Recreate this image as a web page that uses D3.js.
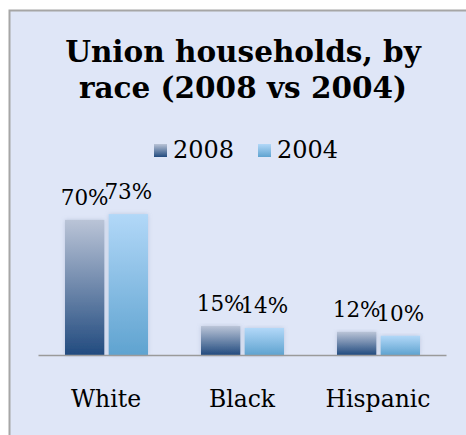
<!DOCTYPE html>
<html>
<head>
<meta charset="utf-8">
<script src="https://cdn.jsdelivr.net/npm/d3@7"></script>
<style>
  html, body { margin: 0; padding: 0; background: #ffffff; }
  svg { display: block; }
  text { font-family: "DejaVu Serif", "Liberation Serif", serif; }
</style>
</head>
<body>
<svg id="chart" width="466" height="435"></svg>
<script>
// Share of union households by race
const categories = ["White", "Black", "Hispanic"];
const seriesNames = ["2008", "2004"];
const values2008 = [70, 15, 12];
const values2004 = [73, 14, 10];
const titleLines = ["Union households, by", "race (2008 vs 2004)"];

const svg = d3.select("#chart");
const W = 466, H = 435;

// chart area panel
svg.append("rect")
  .attr("x", 9.5).attr("y", 10.5)
  .attr("width", W + 10).attr("height", H + 10)
  .attr("fill", "#dfe6f7")
  .attr("stroke", "#a6a6a6").attr("stroke-width", 2);

const defs = svg.append("defs");
const grads = [
  { id: "g2008", top: "#bac4d7", bottom: "#224b7f" },
  { id: "g2004", top: "#b2d8f8", bottom: "#5fa3d0" }
];
grads.forEach(g => {
  const lg = defs.append("linearGradient").attr("id", g.id)
    .attr("x1", 0).attr("y1", 0).attr("x2", 0).attr("y2", 1);
  lg.append("stop").attr("offset", "0%").attr("stop-color", g.top);
  lg.append("stop").attr("offset", "100%").attr("stop-color", g.bottom);
});
defs.append("filter").attr("id", "shadow")
  .attr("x", "-30%").attr("y", "-10%").attr("width", "160%").attr("height", "120%")
  .append("feDropShadow")
  .attr("dx", 0).attr("dy", 0).attr("stdDeviation", 2)
  .attr("flood-color", "#8090b0").attr("flood-opacity", 0.35);

// title
svg.append("text")
  .attr("x", 243).attr("text-anchor", "middle")
  .attr("font-weight", "bold").attr("font-size", 29.5).attr("fill", "#000")
  .selectAll("tspan").data(titleLines).join("tspan")
  .attr("x", 243).attr("y", (d, i) => 62 + i * 36)
  .text(d => d);

// legend
const legendItems = [
  { name: seriesNames[0], fill: "url(#g2008)", x: 154 },
  { name: seriesNames[1], fill: "url(#g2004)", x: 258 }
];
const lg = svg.append("g");
legendItems.forEach(it => {
  lg.append("rect").attr("x", it.x).attr("y", 144).attr("width", 13).attr("height", 13)
    .attr("fill", it.fill);
  lg.append("text").attr("x", it.x + 19).attr("y", 158)
    .attr("font-size", 24).attr("fill", "#000").text(it.name);
});

// scales
const x0 = d3.scaleBand().domain(categories).range([38, 446]).paddingInner(0).paddingOuter(0);
const x1 = d3.scaleBand().domain(seriesNames).range([27, 110]).paddingInner(0.1);
const y = d3.scaleLinear().domain([0, 100]).range([355, 162]);

const data = categories.map((c, i) => ({
  cat: c,
  vals: [
    { s: seriesNames[0], v: values2008[i], fill: "url(#g2008)" },
    { s: seriesNames[1], v: values2004[i], fill: "url(#g2004)" }
  ]
}));

const groups = svg.append("g").selectAll("g").data(data).join("g")
  .attr("transform", d => `translate(${x0(d.cat)},0)`);

groups.selectAll("rect").data(d => d.vals).join("rect")
  .attr("x", d => x1(d.s))
  .attr("y", d => y(d.v))
  .attr("width", x1.bandwidth())
  .attr("height", d => y(0) - y(d.v))
  .attr("fill", d => d.fill)
  .attr("filter", "url(#shadow)");

groups.selectAll("text.val").data(d => d.vals).join("text")
  .attr("class", "val")
  .attr("x", d => x1(d.s) + x1.bandwidth() / 2)
  .attr("y", d => y(d.v) - 15)
  .attr("text-anchor", "middle")
  .attr("font-size", 21.5).attr("fill", "#000")
  .text(d => d.v + "%");

// category axis
const xAxis = svg.append("g").attr("transform", `translate(0,${y(0)})`)
  .call(d3.axisBottom(x0).tickSize(0).tickPadding(35));
xAxis.select(".domain").attr("stroke", "#9a9a9a").attr("stroke-width", 1.5);
xAxis.selectAll("text").attr("font-size", 23.5).attr("fill", "#000")
  .attr("font-family", "\"DejaVu Serif\", serif");
</script>
</body>
</html>
